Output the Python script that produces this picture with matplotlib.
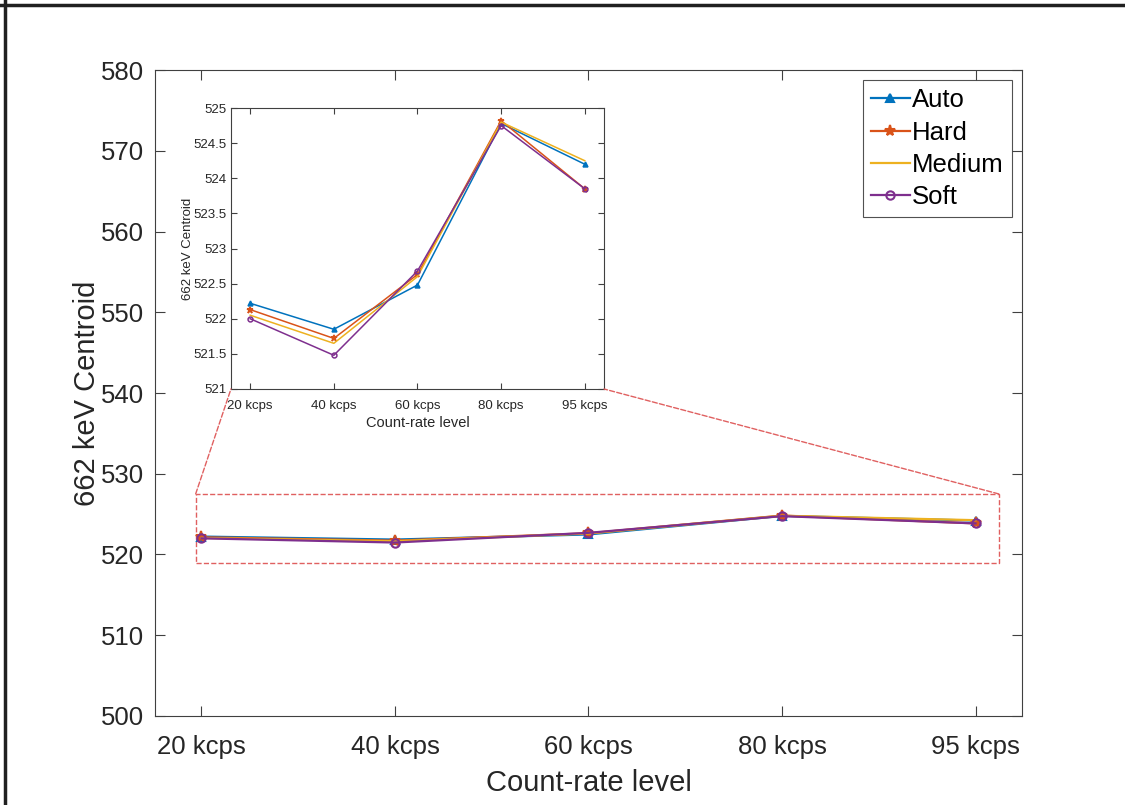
import matplotlib.pyplot as plt
from matplotlib.patches import Rectangle, ConnectionPatch
from matplotlib.lines import Line2D

plt.rcParams['font.family'] = ['Liberation Sans', 'DejaVu Sans']

# data
levels = ['20 kcps', '40 kcps', '60 kcps', '80 kcps', '95 kcps']
auto = [522.22, 521.85, 522.48, 524.78, 524.20]
hard = [522.13, 521.72, 522.63, 524.82, 523.85]
medium = [522.05, 521.65, 522.60, 524.80, 524.25]
soft = [522.00, 521.48, 522.68, 524.75, 523.85]

series = [
    ('Auto', auto, '#0072BD', '^'),
    ('Hard', hard, '#D95319', '*'),
    ('Medium', medium, '#EDB120', None),
    ('Soft', soft, '#7E2F8E', 'o'),
]
x = list(range(1, len(levels) + 1))
axcol = '#404040'


def style_axes(ax, fs):
    for sp in ax.spines.values():
        sp.set_color(axcol)
        sp.set_linewidth(0.8)
    ax.tick_params(direction='in', top=True, right=True, colors=axcol,
                   labelcolor='#262626', labelsize=fs, width=0.8)


fig = plt.figure(figsize=(11.25, 8.05), dpi=100)
ax = fig.add_axes([0.1378, 0.1106, 0.7706, 0.8024])
for name, vals, col, mk in series:
    ax.plot(x, vals, color=col, lw=1.6, marker=mk, ms=6 if mk != '*' else 8,
            mfc='none' if mk == 'o' else col, mew=1.5, label=name)
ax.set_xlim(0.76, 5.24)
ax.set_ylim(500, 580)
ax.set_xticks(x)
ax.set_xticklabels(levels)
ax.set_yticks(range(500, 581, 10))
style_axes(ax, 18.5)
ax.tick_params(length=7)
ax.tick_params(axis='x', pad=14)
ax.tick_params(axis='y', pad=8)
ax.set_xlabel('Count-rate level', fontsize=21, color='#262626', labelpad=7)
ax.set_ylabel('662 keV Centroid', fontsize=21, color='#262626', labelpad=0)

leg_handles = [Line2D([], [], color=c, lw=1.6, marker=m, ms=6 if m != '*' else 8,
                      mfc='none' if m == 'o' else c, mew=1.5) for _, _, c, m in series]
leg = ax.legend(leg_handles, [s[0] for s in series], loc='upper right',
                fontsize=18.5, frameon=True, fancybox=False, handlelength=1.5,
                handletextpad=0.1, borderpad=0.3, labelspacing=0.33,
                borderaxespad=0.4)
leg.get_frame().set_edgecolor('#262626')
leg.get_frame().set_linewidth(0.8)

# zoom box
rect_x0, rect_x1 = 0.97, 5.12
rect_y0, rect_y1 = 519.0, 527.5
ax.add_patch(Rectangle((rect_x0, rect_y0), rect_x1 - rect_x0, rect_y1 - rect_y0,
                       fill=False, ls='--', lw=1, ec='#e06060'))

# inset
ins = fig.add_axes([0.2053, 0.5168, 0.3316, 0.349])
for name, vals, col, mk in series:
    ins.plot(x, vals, color=col, lw=1.1, marker=mk, ms=3.5 if mk != '*' else 5,
             mfc='none' if mk == 'o' else col, mew=1.1)
ins.set_xlim(0.77, 5.23)
ins.set_ylim(521, 525)
ins.set_xticks(x)
ins.set_xticklabels(levels)
ins.set_yticks([521, 521.5, 522, 522.5, 523, 523.5, 524, 524.5, 525])
ins.set_yticklabels(['521', '521.5', '522', '522.5', '523', '523.5', '524', '524.5', '525'])
style_axes(ins, 9.5)
ins.tick_params(length=4, pad=3)
ins.tick_params(axis='x', pad=8)
ins.set_xlabel('Count-rate level', fontsize=10.5, color='#262626', labelpad=3)
ins.set_ylabel('662 keV Centroid', fontsize=9.5, color='#262626', labelpad=0)

for (xa, ya), (xb, yb) in [((rect_x0, rect_y1), (0.0, 0.0)), ((rect_x1, rect_y1), (1.0, 0.0))]:
    con = ConnectionPatch(xyA=(xa, ya), coordsA=ax.transData,
                          xyB=(xb, yb), coordsB=ins.transAxes,
                          ls='--', lw=1, color='#e06060')
    fig.add_artist(con)

# outer frame lines (top and left)
fig.add_artist(Line2D([0, 1], [0.994, 0.994], color='#202020', lw=2.5, transform=fig.transFigure))
fig.add_artist(Line2D([0.004, 0.004], [0, 1], color='#202020', lw=2.5, transform=fig.transFigure))

fig.savefig('out.png', dpi=100)
